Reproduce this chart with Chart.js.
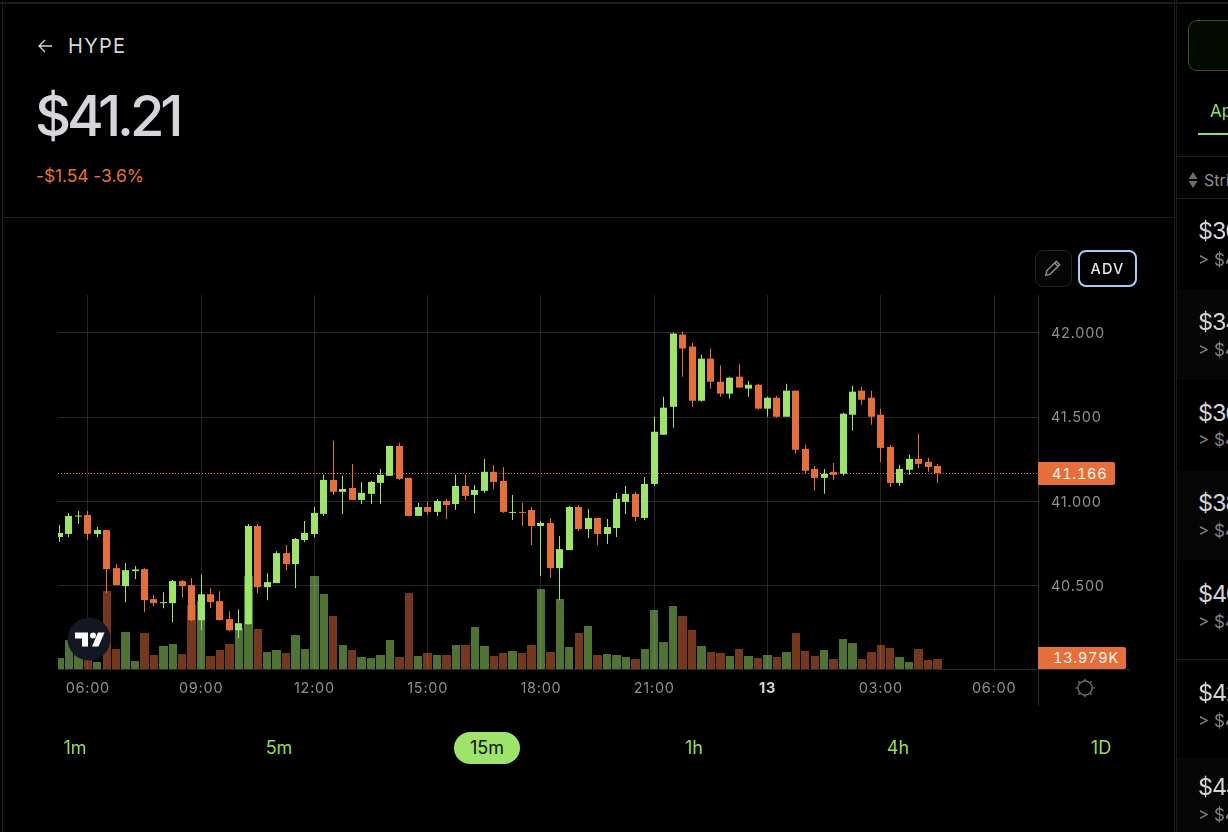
<!DOCTYPE html>
<html>
<head>
<meta charset="utf-8">
<title>HYPE</title>
<script src="https://cdn.jsdelivr.net/npm/chart.js@4"></script>
<style>
html, body { margin: 0; width: 1228px; height: 832px; overflow: hidden; background: #000; font-family: Inter, "Noto Sans", sans-serif; }
.abs { position: absolute; white-space: nowrap; }
.line { position: absolute; background: #1c1c1e; }
#chartBox { position: absolute; left: 0; top: 0; width: 1176px; height: 706px; }
.tf { position: absolute; top: 738px; font-size: 18px; line-height: 20px; color: #95dc60; transform: translateX(-50%); }
.row { position: absolute; left: 1177px; width: 51px; overflow: hidden; }
.row .strike { position: absolute; left: 21px; font-size: 23.5px; line-height: 26px; letter-spacing: -1.2px; color: #d2d3d8; white-space: nowrap; }
.row .sub { position: absolute; left: 21px; font-size: 17px; line-height: 20px; color: #808085; white-space: nowrap; }
.tag { position: absolute; left: 1038px; height: 23px; line-height: 23px; background: #e56f3a; color: #fdf3ee; border-radius: 0 2px 2px 0; font-size: 14.5px; letter-spacing: 0.75px; font-variant-numeric: tabular-nums; white-space: nowrap; box-sizing: border-box; padding-left: 14px; }
</style>
</head>
<body>
<div class="line" style="left:0;top:2px;width:1228px;height:2px"></div>
<div class="line" style="left:2px;top:0;width:1px;height:832px"></div>
<div class="line" style="left:1174px;top:0;width:1px;height:832px"></div>
<div class="line" style="left:1176px;top:0;width:1px;height:832px"></div>
<div class="line" style="left:3px;top:217px;width:1171px;height:1px"></div>

<svg class="abs" style="left:37px;top:38px" width="17" height="16" viewBox="0 0 17 16"><path d="M15 8H2M8 2L2 8l6 6" fill="none" stroke="#d5d6dc" stroke-width="1.3"/></svg>
<div class="abs" style="left:68px;top:33px;font-size:20px;line-height:26px;letter-spacing:1.3px;color:#d5d6dc">HYPE</div>
<div class="abs" style="left:35px;top:82px;font-size:56px;line-height:68px;font-weight:500;letter-spacing:-4.2px;color:#d5d6dc">$41.21</div>
<div class="abs" style="left:36px;top:165px;font-size:17.5px;line-height:22px;letter-spacing:-0.1px;color:#e3703c">-$1.54 -3.6%</div>

<div id="chartBox"><canvas id="priceChart" width="1176" height="706"></canvas></div>

<div class="line" style="left:1038px;top:295px;width:1px;height:411px;background:#2a2a2c"></div>
<div class="line" style="left:58px;top:669px;width:1072px;height:1px;background:#2a2a2c"></div>
<div class="tag" id="priceTag" style="width:77px"></div>
<div class="tag" id="volumeTag" style="width:88px;height:22px;line-height:22px;padding-left:15px"></div>

<svg class="abs" style="left:67px;top:617px" width="44" height="44" viewBox="0 0 44 44"><circle cx="22" cy="22" r="21.5" fill="#131722"/><path d="M8 15.5h13v14h-6v-8H8z M31 15.5h6.5l-6 14H25z" fill="#fff"/><circle cx="26" cy="18.5" r="3" fill="#fff"/></svg>

<div class="abs" style="left:1035px;top:250px;width:35px;height:35px;border:1px solid #232325;border-radius:8px;background:#050505"></div>
<svg class="abs" style="left:1043px;top:258px" width="20" height="20" viewBox="0 0 18 18"><path d="M2.5 15.5l1-4L12 3l3 3-8.5 8.5zM10.5 4.5l3 3" fill="none" stroke="#8e8e93" stroke-width="1.3"/></svg>
<div class="abs" style="left:1078px;top:250px;width:55px;height:33px;border:2px solid #a8ccf5;border-radius:8px;text-align:center;font-size:14.5px;font-weight:500;line-height:33px;letter-spacing:1.2px;color:#e6e6ea">ADV</div>

<svg class="abs" style="left:1075px;top:678px" width="20" height="20" viewBox="0 0 20 20"><circle cx="10" cy="10" r="7" fill="none" stroke="#6c6c70" stroke-width="1.3"/><path d="M10 .5v2.5M10 17v2.5M.5 10H3M17 10h2.5M3.3 3.3L5 5M15 15l1.7 1.7M16.7 3.3L15 5M5 15l-1.7 1.7" stroke="#6c6c70" stroke-width="1.3"/></svg>

<div class="tf" style="left:75px">1m</div>
<div class="tf" style="left:279px">5m</div>
<div class="abs" style="left:454px;top:732px;width:66px;height:32px;border-radius:16px;background:#9fe46a"></div>
<div class="tf" style="left:487px;color:#0b1406">15m</div>
<div class="tf" style="left:694px">1h</div>
<div class="tf" style="left:898px">4h</div>
<div class="tf" style="left:1101px">1D</div>

<div class="abs" style="left:1188px;top:20px;width:60px;height:49px;border:1px solid #2f5a1e;border-radius:9px;background:#050a03"></div>
<div class="abs" style="left:1210px;top:100px;font-size:17px;line-height:22px;color:#95dc60">Apr</div>
<div class="line" style="left:1198px;top:133px;width:30px;height:2px;background:#95dc60"></div>
<div class="line" style="left:1177px;top:156px;width:51px;height:1px"></div>
<div class="line" style="left:1177px;top:198px;width:51px;height:1px"></div>
<svg class="abs" style="left:1188px;top:172px" width="10" height="16" viewBox="0 0 10 16"><path d="M5 0l4.5 7H.5zM5 16L.5 9h9z" fill="#6c6c70"/></svg>
<div class="abs" style="left:1204px;top:170px;font-size:16px;line-height:20px;color:#8e8e93">Strike</div>

<div class="row" style="top:199px;height:90px"><div class="strike" style="top:19px">$30</div><div class="sub" style="top:51px">&gt; $41</div></div>
<div class="row" style="top:289px;height:91px;background:#060606"><div class="strike" style="top:20px">$34</div><div class="sub" style="top:51px">&gt; $41</div></div>
<div class="row" style="top:380px;height:91px"><div class="strike" style="top:20px">$36</div><div class="sub" style="top:50px">&gt; $41</div></div>
<div class="row" style="top:471px;height:89px;background:#060606"><div class="strike" style="top:19px">$38</div><div class="sub" style="top:50px">&gt; $41</div></div>
<div class="row" style="top:560px;height:99px"><div class="strike" style="top:21px">$40</div><div class="sub" style="top:52px">&gt; $41</div></div>
<div class="line" style="left:1177px;top:659px;width:51px;height:1px"></div>
<div class="row" style="top:660px;height:97px"><div class="strike" style="top:20px">$42</div><div class="sub" style="top:51px">&gt; $41</div></div>
<div class="row" style="top:757px;height:75px;background:#060606"><div class="strike" style="top:17px">$44</div><div class="sub" style="top:48px">&gt; $41</div></div>

<script>
// 15m candles, first one is 05:15
const opens = [40.788,40.806,40.909,40.919,40.806,40.829,40.603,40.496,40.585,40.597,40.419,40.395,40.395,40.526,40.502,40.294,40.448,40.407,40.300,40.234,40.270,40.853,40.490,40.514,40.692,40.627,40.770,40.806,40.925,41.127,41.056,41.079,41.008,41.044,41.109,41.151,41.329,41.139,40.913,40.966,40.937,41.002,40.984,41.091,41.038,41.062,41.175,41.121,40.931,40.937,40.948,40.853,40.871,40.603,40.710,40.966,40.835,40.901,40.806,40.841,40.996,41.044,40.901,41.103,41.395,41.561,41.990,41.919,41.597,41.847,41.710,41.639,41.740,41.669,41.692,41.550,41.615,41.502,41.657,41.311,41.192,41.139,41.175,41.163,41.514,41.657,41.615,41.514,41.323,41.109,41.187,41.252,41.234,41.210];
const highs = [40.859,40.931,40.942,40.942,40.847,40.829,40.627,40.633,40.615,40.603,40.442,40.460,40.532,40.532,40.544,40.562,40.484,40.466,40.347,40.359,40.865,40.865,40.573,40.704,40.740,40.782,40.883,40.966,41.157,41.359,41.151,41.222,41.115,41.121,41.192,41.329,41.347,41.139,40.990,40.996,41.014,41.014,41.157,41.157,41.097,41.252,41.216,41.204,41.038,40.990,40.966,40.883,40.901,40.794,40.972,40.978,40.954,40.901,40.895,41.050,41.091,41.056,41.145,41.502,41.621,42.002,42.008,41.942,41.871,41.907,41.806,41.740,41.817,41.716,41.698,41.621,41.627,41.698,41.657,41.335,41.210,41.192,41.228,41.526,41.686,41.681,41.657,41.550,41.335,41.216,41.276,41.401,41.258,41.222];
const lows = [40.760,40.788,40.865,40.770,40.788,40.454,40.502,40.401,40.538,40.341,40.377,40.365,40.282,40.425,40.288,40.234,40.365,40.294,40.228,40.187,40.270,40.454,40.413,40.514,40.591,40.484,40.758,40.788,40.913,41.038,40.925,41.008,40.984,40.984,40.984,41.151,41.127,40.913,40.913,40.919,40.913,40.895,40.948,41.008,40.931,41.050,41.073,40.931,40.889,40.853,40.740,40.556,40.544,40.413,40.710,40.823,40.782,40.740,40.746,40.788,40.925,40.883,40.889,41.091,41.395,41.436,41.740,41.561,41.591,41.669,41.621,41.609,41.675,41.621,41.544,41.502,41.496,41.502,41.282,41.163,41.062,41.044,41.127,41.151,41.419,41.573,41.454,41.234,41.085,41.091,41.157,41.198,41.175,41.109];
const closes = [40.812,40.913,40.913,40.806,40.829,40.597,40.502,40.591,40.595,40.413,40.395,40.401,40.526,40.496,40.294,40.448,40.401,40.294,40.234,40.276,40.853,40.490,40.520,40.692,40.627,40.776,40.812,40.931,41.127,41.056,41.073,41.008,41.050,41.115,41.157,41.329,41.133,40.913,40.966,40.937,41.002,40.978,41.091,41.032,41.067,41.175,41.115,40.937,40.937,40.931,40.853,40.871,40.603,40.716,40.966,40.835,40.901,40.806,40.847,41.014,41.044,40.907,41.103,41.413,41.556,41.996,41.907,41.597,41.847,41.710,41.639,41.734,41.675,41.692,41.550,41.615,41.502,41.657,41.306,41.181,41.139,41.163,41.157,41.520,41.651,41.603,41.502,41.317,41.109,41.192,41.252,41.222,41.204,41.166];
// volume in thousands
const volumes = [15.4,40.5,26.6,40.5,9.8,109,28,51.7,11.2,50.3,19.6,32.2,35,21,89.5,95.1,18.2,26.6,35,57.3,130,55.9,23.8,26.6,22.4,47.5,28,130,104.9,74.1,33.6,26.6,16.8,15.4,19.6,40.5,16.8,106.2,18.2,22.4,19.6,19.6,33.6,33.6,58.7,32.2,18.2,22.4,25.2,22.4,33.6,111.8,23.8,97.9,30.8,50.3,60.1,19.6,21,19.6,16.8,14,28,82.5,37.7,88.1,74.1,54.5,32.2,23.8,22.4,18.2,28,18.2,15.4,19.6,16.8,23.8,50.3,25.2,18.2,26.6,14,41.9,36.3,14,23.8,33.6,29.4,16.8,9.8,28,12.6,13.979];
const timeTickBars = [3,15,27,39,51,63,75,87,99];
const timeTicks = ["06:00","09:00","12:00","15:00","18:00","21:00","13","03:00","06:00"];

const green = "#9fe46a";
const red = "#e56f3a";
const greenVol = "rgba(159,228,106,0.5)";
const redVol = "rgba(229,111,58,0.5)";
const gridColor = "#262628";
const xMin = -0.159, xMax = 103.65;

let isUp = closes.map((c, i) => c >= opens[i]);
let lastClose = closes[closes.length - 1];
let lastVolume = volumes[volumes.length - 1];

function isDayTick(ctx) {
    return ctx.tick && timeTicks[timeTickBars.indexOf(ctx.tick.value)] === "13";
}

// bars sit on fractional pixels, line them up so wicks stay 1px sharp
const snapBars = {
    id: "snapBars",
    beforeDatasetsDraw(chart) {
        chart.getSortedVisibleDatasetMetas().forEach(meta => {
            if (meta.type === "line") {
                meta.data.forEach(p => { p.y = Math.round(p.y) + 0.5; });
                return;
            }
            meta.data.forEach(el => {
                let left, right;
                if (meta.label === "Volume") {
                    left = Math.round(el.x - 4.2);
                    right = Math.round(el.x + 4.2);
                } else {
                    left = Math.floor(el.x) - Math.floor(el.width / 2);
                    right = left + el.width;
                }
                el.x = (left + right) / 2;
                el.width = right - left;
            });
        });
    }
};

// orange last value tags on the price axis
const lastTags = {
    id: "lastTags",
    afterDraw(chart) {
        const priceTag = document.getElementById("priceTag");
        const volumeTag = document.getElementById("volumeTag");
        priceTag.textContent = lastClose.toFixed(3);
        priceTag.style.top = Math.round(chart.scales.y.getPixelForValue(lastClose)) - 11 + "px";
        volumeTag.textContent = lastVolume.toFixed(3) + "K";
        volumeTag.style.top = Math.round(chart.scales.yVol.getPixelForValue(lastVolume)) - 12 + "px";
    }
};

const letterSpacing = {
    id: "letterSpacing",
    beforeDraw(chart) { chart.ctx.letterSpacing = "0.75px"; }
};

const chartConfig = {
    type: "bar",
    data: {
        datasets: [
            {
                label: "Body",
                order: 1,
                data: opens.map((o, i) => ({ x: i, y: [o, closes[i]] })),
                backgroundColor: isUp.map(u => u ? green : red),
                barThickness: 7,
                minBarLength: 1,
                grouped: false,
                inflateAmount: 0,
                yAxisID: "y"
            },
            {
                label: "Wick",
                order: 2,
                data: lows.map((l, i) => ({ x: i, y: [l, highs[i]] })),
                backgroundColor: isUp.map(u => u ? green : red),
                barThickness: 1,
                grouped: false,
                inflateAmount: 0,
                yAxisID: "y"
            },
            {
                label: "Volume",
                order: 3,
                data: volumes.map((v, i) => ({ x: i, y: v })),
                backgroundColor: isUp.map(u => u ? greenVol : redVol),
                barThickness: 8.4,
                grouped: false,
                inflateAmount: 0,
                yAxisID: "yVol"
            },
            {
                type: "line",
                label: "Last",
                order: 4,
                data: [{ x: xMin, y: lastClose }, { x: xMax, y: lastClose }],
                borderColor: "#e56f3a",
                borderWidth: 1,
                borderDash: [1, 2],
                pointRadius: 0,
                yAxisID: "y"
            }
        ]
    },
    options: {
        responsive: false,
        animation: false,
        events: [],
        layout: { padding: { left: 58, top: 295, right: 0, bottom: 0 } },
        plugins: { legend: { display: false }, tooltip: { enabled: false } },
        scales: {
            x: {
                type: "linear",
                offset: false,
                min: xMin,
                max: xMax,
                border: { display: false },
                grid: { color: gridColor, offset: false, drawTicks: false },
                afterBuildTicks: scale => { scale.ticks = timeTickBars.map(v => ({ value: v })); },
                afterFit: scale => { scale.height = 37; },
                ticks: {
                    padding: 11,
                    maxRotation: 0,
                    autoSkip: false,
                    color: ctx => isDayTick(ctx) ? "#d5d6dc" : "#8e8e93",
                    font: ctx => ({ family: "Inter", size: 14.5, weight: isDayTick(ctx) ? "700" : "400" }),
                    callback: value => timeTicks[timeTickBars.indexOf(value)]
                }
            },
            y: {
                position: "right",
                min: 40.004,
                max: 42.225,
                border: { display: false },
                grid: { color: gridColor, drawTicks: false },
                afterFit: scale => { scale.width = 138; },
                ticks: {
                    stepSize: 0.5,
                    includeBounds: false,
                    padding: 13,
                    labelOffset: 1,
                    color: "#8e8e93",
                    font: { family: "Inter", size: 14.5 },
                    callback: value => value.toFixed(3)
                }
            },
            yVol: {
                display: false,
                min: 0,
                max: 523
            }
        }
    },
    plugins: [letterSpacing, snapBars, lastTags]
};

const priceChart = new Chart(document.getElementById("priceChart"), chartConfig);
</script>
</body>
</html>
